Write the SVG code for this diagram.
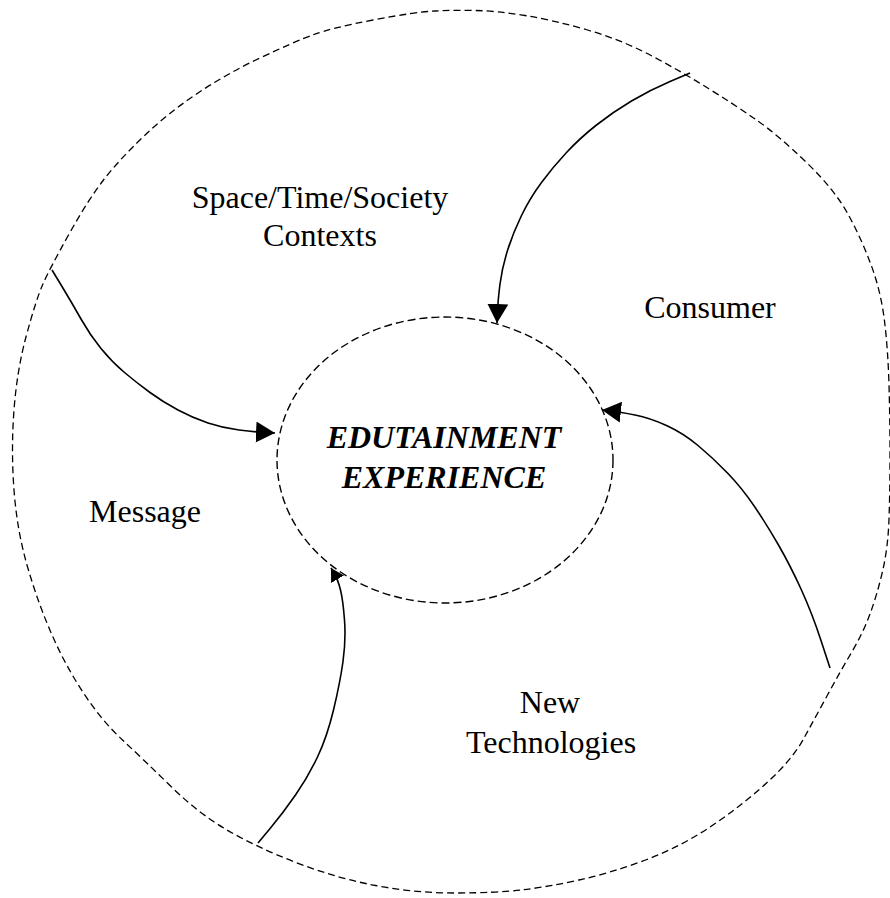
<svg xmlns="http://www.w3.org/2000/svg" width="890" height="898" viewBox="0 0 890 898">
  <style>
    .outer { fill: none; stroke: #000; stroke-width: 1.3; stroke-dasharray: 7 4; }
    .inner { fill: none; stroke: #000; stroke-width: 1.4; stroke-dasharray: 8 4; }
    .conn { fill: none; stroke: #000; stroke-width: 1.6; stroke-linejoin: round; }
    .lbl { font-family: "Liberation Serif", "Times New Roman", serif; font-size: 32px; fill: #000; text-anchor: middle; }
    .title { font-family: "Liberation Serif", "Times New Roman", serif; font-size: 32px; font-weight: bold; font-style: italic; fill: #000; text-anchor: middle; }
  </style>
  <defs>
    <marker id="head" markerUnits="userSpaceOnUse" markerWidth="19" markerHeight="21" refX="19" refY="10.5" orient="auto" viewBox="0 0 19 21">
      <path d="M0,0 L19,10.5 L0,21 Z" fill="#000"/>
    </marker>
    <marker id="headSmall" markerUnits="userSpaceOnUse" markerWidth="13" markerHeight="15" refX="13" refY="7.5" orient="auto" viewBox="0 0 13 15">
      <path d="M0,0 L13,7.5 L0,15 Z" fill="#000"/>
    </marker>
  </defs>
  <rect width="890" height="898" fill="#fff"/>

  <g id="outer-ring">
    <path class="outer" d="M476,10.5 Q497,11 525,15.5 Q553,20 587.5,30 Q622,40 652,56 Q682,72 708.5,88.5 Q735,105 756.5,120 Q778,135 806.5,162.5 Q835,190 848.5,215 Q862,240 871.5,266 Q881,292 884.5,321 Q888,350 889,385 Q890,420 890,455 Q890,490 889,519 Q888,548 882.5,571.5 Q877,595 870,614 Q863,633 851.5,652.5 Q840,672 827.5,695 Q815,718 803.5,739 Q792,760 766,783.5 Q740,807 710,827 Q680,847 645.5,860 Q611,873 579,880 Q547,887 521,890 Q495,893 455,893 Q415,893 375.5,885.5 Q336,878 296,862.5 Q256,847 227,830 Q198,813 171,786.5 Q144,760 122.5,740 Q101,720 82.5,691.5 Q64,663 50.5,631.5 Q37,600 27,565 Q17,530 14,490 Q11,450 14,410 Q17,370 26.5,335 Q36,300 42.5,285 Q49,270 68.5,235 Q88,200 103.5,180 Q119,160 143.5,136.5 Q168,113 198,93 Q228,73 261,57.5 Q294,42 312.5,35 Q331,28 373,20 Q415,12 435,11 Q455,10 476,10.5 Z"/>
  </g>

  <g id="edutainment-experience">
    <ellipse class="inner" cx="445" cy="460" rx="168" ry="143"/>
    <text class="title" x="444" y="448">EDUTAINMENT</text>
    <text class="title" x="444" y="488">EXPERIENCE</text>
  </g>

  <g id="space-time-society">
    <text class="lbl" x="320" y="208">Space/Time/Society</text>
    <text class="lbl" x="320" y="246">Contexts</text>
  </g>

  <g id="consumer">
    <text class="lbl" x="710" y="318">Consumer</text>
  </g>

  <g id="message">
    <text class="lbl" x="145" y="522">Message</text>
  </g>

  <g id="new-technologies">
    <text class="lbl" x="550" y="713">New</text>
    <text class="lbl" x="551" y="753">Technologies</text>
  </g>

  <g id="connectors">
    <path class="conn" marker-end="url(#head)" d="M690,73 L670,81.5 Q650,90 631.5,101 Q613,112 596.5,125 Q580,138 566.5,152.5 Q553,167 541.5,182.5 Q530,198 521.5,215.5 Q513,233 507.5,250.5 Q502,268 500,284 Q498,300 497.5,311.5 L497,323"/>
    <path class="conn" marker-end="url(#head)" d="M830,668 L821,640.5 Q812,613 801,589 Q790,565 778.5,545 Q767,525 754.5,506.5 Q742,488 727.5,473 Q713,458 698,445.5 Q683,433 666.5,425.5 Q650,418 635,415 Q620,412 611,411 L602,410"/>
    <path class="conn" marker-end="url(#head)" d="M52,270 L62,286.5 Q72,303 81,319 Q90,335 101,348.5 Q112,362 124.5,372.5 Q137,383 150,392.5 Q163,402 178,410 Q193,418 208,423 Q223,428 239,430 Q255,432 265,432.5 L275,433"/>
    <path class="conn" marker-end="url(#headSmall)" d="M258,843 L270.5,828 Q283,813 295.5,795 Q308,777 317.5,757 Q327,737 333.5,710 Q340,683 343,661.5 Q346,640 344.5,620 Q343,600 340.5,590 Q338,580 334.5,574 L331,568"/>
  </g>
</svg>
